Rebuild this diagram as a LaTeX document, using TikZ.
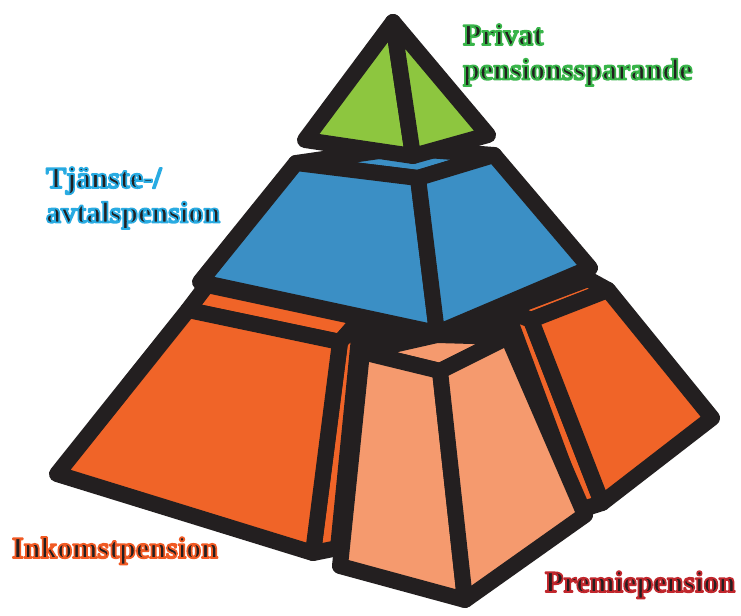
\documentclass[tikz,border=0pt]{standalone}
\usepackage{fontspec}
\setmainfont{Liberation Serif}

\definecolor{edgeblack}{HTML}{231F20}
\definecolor{topgreen}{HTML}{8DC63F}
\definecolor{midblue}{HTML}{3B8FC5}
\definecolor{baseorange}{HTML}{F06428}
\definecolor{basesalmon}{HTML}{F59A6E}
% outlined text: glyphs filled black and stroked in a glow colour
\newcommand\glow[2]{\noindent\special{pdf:literal direct 2 Tr 1.3 w 1 j #1 RG}#2\special{pdf:literal direct 0 Tr}}

\begin{document}
\begin{tikzpicture}[x=0.75pt,y=-0.75pt,line width=12pt,line join=round,
	face/.style={draw=edgeblack,fill=#1},
	tag/.style={inner sep=0pt,align=left,text=edgeblack,font=\fontsize{22.6}{26}\selectfont\bfseries}]
	\useasboundingbox[fill=white] (0,0) rectangle (741,616);
	% corners of the three tiers
	\coordinate (lA) at (188,310); \coordinate (lB) at (340,342);
	\coordinate (lC) at (313,553); \coordinate (lD) at (57,474);
	\coordinate (lA2) at (207,285); \coordinate (lB2) at (361,318);
	\coordinate (lC2) at (338,548);
	\coordinate (rE) at (531,320); \coordinate (rF) at (608,290);
	\coordinate (rG) at (712,418); \coordinate (rH) at (602,503);
	\coordinate (rE2) at (506,310); \coordinate (rF2) at (588,279);
	\coordinate (rH2) at (580,510);
	\coordinate (sL) at (362,352); \coordinate (sB) at (437,335);
	\coordinate (sR) at (508,337); \coordinate (sF) at (440,371);
	\coordinate (sBL) at (340,566); \coordinate (sBF) at (465,600);
	\coordinate (sBR) at (585,515);
	\coordinate (bTL) at (296,163); \coordinate (bTF) at (418,178);
	\coordinate (bTR) at (494,155); \coordinate (bTB) at (400,148);
	\coordinate (bBL) at (200,282); \coordinate (bBF) at (437,333);
	\coordinate (bBR) at (590,268);
	\coordinate (gT) at (393,22); \coordinate (gL) at (305,140);
	\coordinate (gF) at (413,156); \coordinate (gR) at (488,135);
	% shadow under the middle tier
	\fill[edgeblack] (bBL) -- (bBF) -- (bBR) -- (rF2) -- (rE2) -- (sR) -- (sF) -- (sL) -- (lB2) -- (lA2) -- cycle;
	% bottom tier
	\filldraw[face=baseorange] (lA) -- (lA2) -- (lB2) -- (lB) -- cycle;
	\filldraw[face=baseorange] (lB) -- (lB2) -- (lC2) -- (lC) -- cycle;
	\filldraw[face=baseorange] (lA) -- (lB) -- (lC) -- (lD) -- cycle;
	\filldraw[face=baseorange] (rE2) -- (rF2) -- (rF) -- (rE) -- cycle;
	\filldraw[face=baseorange] (rE2) -- (rE) -- (rH) -- (rH2) -- cycle;
	\filldraw[face=baseorange] (rE) -- (rF) -- (rG) -- (rH) -- cycle;
	\filldraw[face=basesalmon] (sL) -- (sB) -- (sR) -- (sF) -- cycle;
	\filldraw[face=basesalmon] (sL) -- (sF) -- (sBF) -- (sBL) -- cycle;
	\filldraw[face=basesalmon] (sF) -- (sR) -- (sBR) -- (sBF) -- cycle;
	% middle tier
	\filldraw[face=midblue] (bTL) -- (bTB) -- (bTR) -- (bTF) -- cycle;
	\filldraw[face=midblue] (bTL) -- (bTF) -- (bBF) -- (bBL) -- cycle;
	\filldraw[face=midblue] (bTF) -- (bTR) -- (bBR) -- (bBF) -- cycle;
	% top tier
	\filldraw[face=topgreen] (gT) -- (gL) -- (gF) -- cycle;
	\filldraw[face=topgreen] (gT) -- (gF) -- (gR) -- cycle;
	% labels
	\node[tag,anchor=north west] (privat) at (455,16) {\glow{0.224 0.710 0.290}{Privat}\\\glow{0.224 0.710 0.290}{pensionssparande}};
	\node[tag,anchor=north west] (tjanste) at (38,159) {\glow{0.161 0.671 0.886}{Tjänste-/}\\\glow{0.161 0.671 0.886}{avtalspension}};
	\node[tag,anchor=base west] (inkomst) at (4,558) {\glow{0.945 0.353 0.141}{Inkomstpension}};
	\node[tag,anchor=base west] (premie) at (537,592) {\glow{0.757 0.153 0.176}{Premiepension}};
\end{tikzpicture}
\end{document}
